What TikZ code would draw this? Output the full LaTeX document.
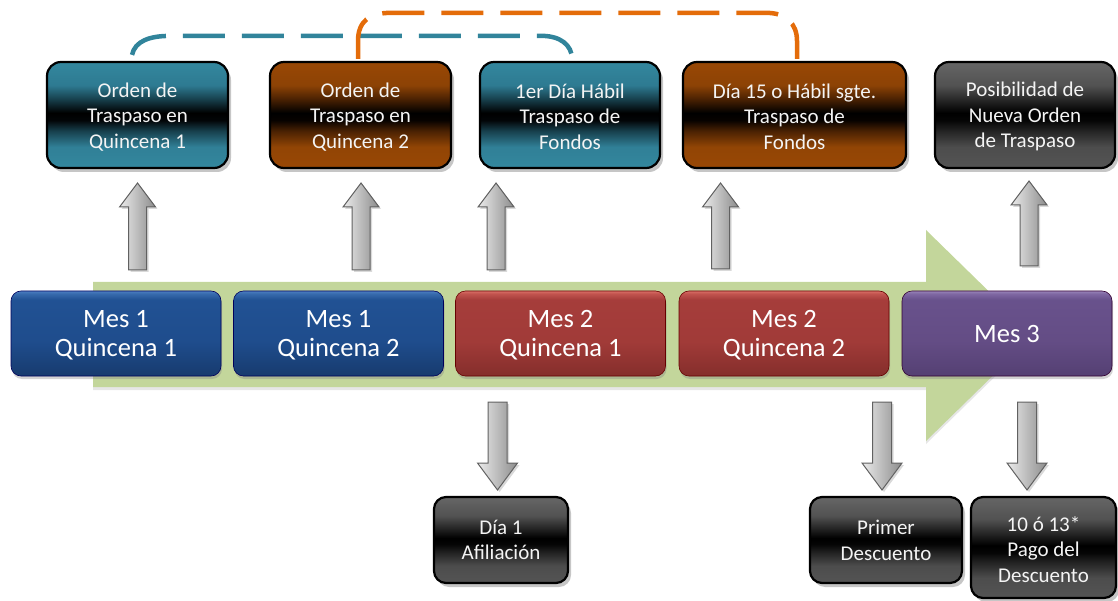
\documentclass[tikz,border=0pt]{standalone}
\usepackage{fontspec}
\setmainfont{Carlito}
\usetikzlibrary{shadows,calc}

\definecolor{tealline}{HTML}{31849B}
\definecolor{orangeline}{HTML}{E46C0A}
\definecolor{bandgreen}{HTML}{C3D69B}
\definecolor{boxtext}{HTML}{F4F4F4}

% shadings: the path box spans 25bp..75bp
\pgfdeclareverticalshading{glossteal}{100bp}{rgb(0bp)=(0.20,0.53,0.62); rgb(25bp)=(0.20,0.53,0.62); rgb(35bp)=(0.19,0.50,0.59); rgb(42.5bp)=(0.09,0.25,0.30); rgb(47.5bp)=(0.01,0.02,0.03); rgb(51bp)=(0,0,0); rgb(57.5bp)=(0.09,0.25,0.30); rgb(64bp)=(0.18,0.48,0.57); rgb(75bp)=(0.20,0.53,0.62); rgb(100bp)=(0.20,0.53,0.62)}
\pgfdeclareverticalshading{glossbrown}{100bp}{rgb(0bp)=(0.60,0.28,0.02); rgb(25bp)=(0.60,0.28,0.02); rgb(35bp)=(0.57,0.27,0.02); rgb(42.5bp)=(0.29,0.13,0.01); rgb(47.5bp)=(0.03,0.01,0.00); rgb(51bp)=(0,0,0); rgb(57.5bp)=(0.29,0.13,0.01); rgb(64bp)=(0.55,0.26,0.02); rgb(75bp)=(0.60,0.28,0.02); rgb(100bp)=(0.60,0.28,0.02)}
\pgfdeclareverticalshading{glossgrey}{100bp}{rgb(0bp)=(0.33,0.33,0.33); rgb(25bp)=(0.33,0.33,0.33); rgb(35bp)=(0.30,0.30,0.30); rgb(42.5bp)=(0.14,0.14,0.14); rgb(47.5bp)=(0.02,0.02,0.02); rgb(51bp)=(0,0,0); rgb(57.5bp)=(0.16,0.16,0.16); rgb(64bp)=(0.32,0.32,0.32); rgb(75bp)=(0.40,0.40,0.40); rgb(100bp)=(0.40,0.40,0.40)}
\pgfdeclareverticalshading{midblue}{100bp}{rgb(0bp)=(0.09,0.23,0.43); rgb(25bp)=(0.09,0.23,0.43); rgb(45bp)=(0.12,0.30,0.55); rgb(70bp)=(0.13,0.32,0.58); rgb(73.5bp)=(0.22,0.42,0.68); rgb(75bp)=(0.30,0.50,0.76); rgb(100bp)=(0.30,0.50,0.76)}
\pgfdeclareverticalshading{midred}{100bp}{rgb(0bp)=(0.52,0.18,0.17); rgb(25bp)=(0.52,0.18,0.17); rgb(45bp)=(0.63,0.23,0.22); rgb(70bp)=(0.65,0.24,0.23); rgb(73.5bp)=(0.76,0.33,0.31); rgb(75bp)=(0.86,0.44,0.41); rgb(100bp)=(0.86,0.44,0.41)}
\pgfdeclareverticalshading{midpurple}{100bp}{rgb(0bp)=(0.33,0.25,0.45); rgb(25bp)=(0.33,0.25,0.45); rgb(45bp)=(0.39,0.30,0.52); rgb(70bp)=(0.41,0.32,0.55); rgb(73.5bp)=(0.50,0.41,0.64); rgb(75bp)=(0.60,0.52,0.73); rgb(100bp)=(0.60,0.52,0.73)}

\newcommand\tgap[1]{\rule{0pt}{#1pt}}

\tikzset{
  topbox/.style={shade, rounded corners=14pt, draw=black, line width=2.2pt,
    minimum height=106pt, inner sep=0pt, align=center, text=boxtext,
    font=\fontsize{21}{25.5}\selectfont,
    drop shadow={shadow xshift=3pt, shadow yshift=-4pt, opacity=0.45}},
  botbox/.style={topbox, shading=glossgrey, rounded corners=12pt, minimum height=86pt},
  midbox/.style={shade, rounded corners=10pt, minimum width=210pt, minimum height=85pt,
    inner sep=0pt, align=center, text=white, line width=0.6pt,
    font=\fontsize{26.5}{29}\selectfont,
    drop shadow={shadow xshift=1pt, shadow yshift=-3pt, opacity=0.35}},
  blockarr/.style={draw=black!62, line width=1pt, left color=black!8, right color=black!45,
    drop shadow={shadow xshift=2pt, shadow yshift=-2pt, opacity=0.3}},
  dashconn/.style={line width=4.5pt, dash pattern=on 42pt off 17pt},
}

\begin{document}
\begin{tikzpicture}[x=1pt,y=-1pt]
\useasboundingbox (0,0) rectangle (1118,601);

% green timeline arrow
\fill[bandgreen, drop shadow={shadow xshift=0pt, shadow yshift=-3pt, opacity=0.2}]
  (93,282) -- (926,282) -- (926,230) -- (1034,335.5) -- (926,441) -- (926,387) -- (93,387) -- cycle;

% middle boxes
\node[midbox, shading=midblue, draw=black!40!blue!60!black] (m1) at (116,333.5) {\tgap{21}Mes 1\\Quincena 1};
\node[midbox, shading=midblue, draw=black!40!blue!60!black] (m2) at (338.5,333.5) {\tgap{21}Mes 1\\Quincena 2};
\node[midbox, shading=midred, draw=red!40!black] (m3) at (560.5,333.5) {\tgap{21}Mes 2\\Quincena 1};
\node[midbox, shading=midred, draw=red!40!black] (m4) at (784,333.5) {\tgap{21}Mes 2\\Quincena 2};
\node[midbox, shading=midpurple, draw=violet!40!black] (m5) at (1007,333.5) {\tgap{19}Mes 3};

% top boxes
\node[topbox, shading=glossteal, minimum width=181pt] (b1) at (137.5,115) {\tgap{18}Orden de\\Traspaso en\\Quincena 1};
\node[topbox, shading=glossbrown, minimum width=181pt] (b2) at (360.5,115) {\tgap{18}Orden de\\Traspaso en\\Quincena 2};
\node[topbox, shading=glossteal, minimum width=180pt] (b3) at (570,115) {\tgap{18}1er Día Hábil\\Traspaso de\\Fondos};
\node[topbox, shading=glossbrown, minimum width=223pt] (b4) at (794.5,115) {\tgap{18}Día 15 o Hábil sgte.\\Traspaso de\\Fondos};
\node[topbox, shading=glossgrey, minimum width=180pt] (b5) at (1025,115) {\tgap{18}Posibilidad de\\Nueva Orden\\de Traspaso};

% bottom boxes
\node[botbox, minimum width=134pt] (d1) at (501,540) {Día 1\\Afiliación};
\node[botbox, minimum width=152pt] (d2) at (886,540) {\tgap{15.5}Primer\\Descuento};
\node[botbox, minimum width=145pt, minimum height=101pt] (d3) at (1043.5,547.5) {\tgap{19}10 ó 13*\\Pago del\\Descuento};

% dashed connectors
\coordinate (t0) at ([xshift=-5.5pt,yshift=6pt]b1.north);
\coordinate (t1) at ([xshift=2pt,yshift=2pt]b3.north);
\draw[dashconn, tealline] (t0) .. controls ($(t0)+(3,-14)$) and ($(t0)+(18,-19)$) .. ($(t0)+(38,-19)$)
  -- ($(t1)+(-30,-23)$) .. controls ($(t1)+(-12,-23)$) and ($(t1)+(0,-14)$) .. (t1);

\coordinate (o0) at ([xshift=-2.5pt,yshift=2pt]b2.north);
\coordinate (o1) at ([xshift=2.5pt,yshift=2pt]b4.north);
\draw[dashconn, orangeline] (o0) -- ($(o0)+(0,-18)$) .. controls ($(o0)+(0,-38)$) and ($(o0)+(12,-46)$) .. ($(o0)+(32,-46)$)
  -- ($(o1)+(-30,-46)$) .. controls ($(o1)+(-12,-46)$) and ($(o1)+(0,-36)$) .. ($(o1)+(0,-18)$) -- (o1);

% up block arrows
\foreach \x/\t/\h/\b in {137.5/183/207/270, 361/183/207/270, 496/183/207/270, 720.5/183/207/269, 1029/181/205/266}{
  \draw[blockarr] (\x-9,\b) -- (\x-9,\h) -- (\x-18,\h) -- (\x,\t) -- (\x+18,\h) -- (\x+9,\h) -- (\x+9,\b) -- cycle;
}
% down block arrows
\foreach \x in {497.5, 882, 1027}{
  \draw[blockarr] (\x-9.5,402) -- (\x-9.5,463) -- (\x-20,463) -- (\x,490) -- (\x+20,463) -- (\x+9.5,463) -- (\x+9.5,402) -- cycle;
}
\end{tikzpicture}
\end{document}
